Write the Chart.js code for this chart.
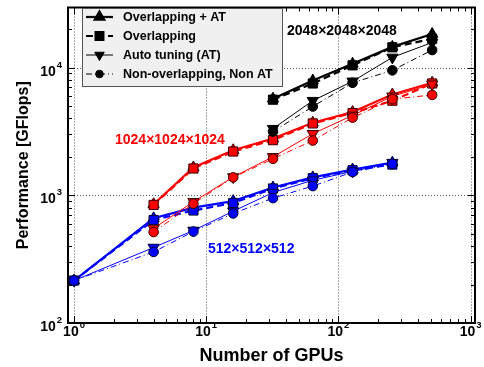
<!DOCTYPE html>
<html>
<head>
<meta charset="utf-8">
<script src="https://cdn.jsdelivr.net/npm/chart.js@4.4.1/dist/chart.umd.min.js"></script>
<style>
body{margin:0;background:#fff;}
#chart{display:block;}
</style>
</head>
<body>
<canvas id="chart" width="484" height="367"></canvas>
<script>
// number of GPUs
var gpus = [1, 4, 8, 16, 32, 64, 128, 256, 512];

// 512x512x512  (1 .. 256 GPUs)
var gpus512 = [1, 4, 8, 16, 32, 64, 128, 256];
var ovat512 = [215, 660, 800, 900, 1150, 1380, 1590, 1800];
var ov512   = [215, 640, 760, 870, 1130, 1360, 1570, 1740];
var at512   = [215, 390, 530, 750, 1050, 1310, 1540, 1800];
var non512  = [215, 360, 520, 720, 950, 1180, 1520, 1760];

// 1024x1024x1024  (4 .. 512 GPUs)
var gpus1024 = [4, 8, 16, 32, 64, 128, 256, 512];
var ovat1024 = [850, 1650, 2250, 2780, 3700, 4480, 6150, 7600];
var ov1024   = [840, 1620, 2200, 2700, 3650, 4400, 5500, 7500];
var at1024   = [550, 890, 1390, 2000, 3030, 4220, 5950, 7400];
var non1024  = [515, 860, 1380, 1930, 2680, 4050, 5650, 6100];

// 2048x2048x2048  (32 .. 512 GPUs)
var gpus2048 = [32, 64, 128, 256, 512];
var ovat2048 = [5700, 7900, 10700, 14500, 18300];
var ov2048   = [5600, 7500, 10400, 14400, 16800];
var at2048   = [3320, 5500, 7800, 12000, 15700];
var non2048  = [3150, 4950, 7600, 9500, 13700];

var seriesNames = ["Overlapping + AT", "Overlapping", "Auto tuning (AT)", "Non-overlapping, Non AT"];
var sizeNames = ["512×512×512", "1024×1024×1024", "2048×2048×2048"];
var xTicks = [1, 10, 100, 1000];
var yTicks = [100, 1000, 10000];

// look of the four kinds of line
var kinds = [
  {w: 2.2, dash: [],          pt: 'triangle', r: 6.5, rot: 0},
  {w: 2.2, dash: [7, 4],      pt: 'rect',     r: 6.5, rot: 0},
  {w: 1,   dash: [],          pt: 'triangle', r: 6.5, rot: 180},
  {w: 1,   dash: [6, 3, 1, 3], pt: 'circle',  r: 4.8, rot: 0}
];
var colors = ['#0000ff', '#ff0000', '#000000'];
var edges  = ['#000033', '#330000', '#000000'];

function pts(xs, ys) {
  return xs.map(function(x, i) { return {x: x, y: ys[i]}; });
}

var groups = [
  [gpus512, [ovat512, ov512, at512, non512]],
  [gpus1024, [ovat1024, ov1024, at1024, non1024]],
  [gpus2048, [ovat2048, ov2048, at2048, non2048]]
];

var datasets = [];
groups.forEach(function(g, gi) {
  g[1].forEach(function(vals, k) {
    var s = kinds[k];
    datasets.push({
      label: seriesNames[k] + ' ' + sizeNames[gi],
      data: pts(g[0], vals),
      borderColor: colors[gi],
      backgroundColor: colors[gi],
      borderWidth: s.w,
      borderDash: s.dash,
      pointStyle: s.pt,
      pointRotation: s.rot,
      pointRadius: s.r,
      pointBackgroundColor: colors[gi],
      pointBorderColor: edges[gi],
      pointBorderWidth: 1,
      tension: 0,
      order: 4 - k
    });
  });
});

function supLabel(ctx, exp, x, y, align) {
  // "10" with a raised exponent
  ctx.font = 'bold 14px Arial, "Liberation Sans", sans-serif';
  var w1 = ctx.measureText('10').width;
  ctx.font = 'bold 9.5px Arial, "Liberation Sans", sans-serif';
  var w2 = ctx.measureText(String(exp)).width;
  var tot = w1 + 1 + w2;
  var x0 = align == 'center' ? x - tot / 2 : x - tot;
  ctx.textAlign = 'left';
  ctx.textBaseline = 'alphabetic';
  ctx.font = 'bold 14px Arial, "Liberation Sans", sans-serif';
  ctx.fillText('10', x0, y);
  ctx.font = 'bold 9.5px Arial, "Liberation Sans", sans-serif';
  ctx.fillText(String(exp), x0 + w1 + 1, y - 8);
}

var framePlugin = {
  id: 'frame',
  beforeDatasetsDraw: function(chart) {
    var ctx = chart.ctx, a = chart.chartArea;
    var sx = chart.scales.x, sy = chart.scales.y;
    ctx.save();
    ctx.strokeStyle = '#555';
    ctx.lineWidth = 1;
    ctx.setLineDash([1, 2]);
    xTicks.forEach(function(v) {
      var px = Math.round(sx.getPixelForValue(v)) + 0.5;
      if (px > a.left + 2 && px < a.right - 2) {
        ctx.beginPath(); ctx.moveTo(px, a.top); ctx.lineTo(px, a.bottom); ctx.stroke();
      }
    });
    yTicks.forEach(function(v) {
      var py = Math.round(sy.getPixelForValue(v)) + 0.5;
      if (py > a.top + 2 && py < a.bottom - 2) {
        ctx.beginPath(); ctx.moveTo(a.left, py); ctx.lineTo(a.right, py); ctx.stroke();
      }
    });
    ctx.restore();
  },
  afterDraw: function(chart) {
    var ctx = chart.ctx, a = chart.chartArea;
    var sx = chart.scales.x, sy = chart.scales.y;
    ctx.save();
    ctx.setLineDash([]);
    ctx.strokeStyle = '#000';
    ctx.fillStyle = '#000';

    // minor and major ticks on all four sides
    ctx.lineWidth = 1;
    [1, 10, 100, 1000].forEach(function(dec) {
      for (var m = 1; m < 10; m++) {
        var v = m * dec;
        if (v < sx.min || v > sx.max) continue;
        var px = Math.round(sx.getPixelForValue(v)) + 0.5;
        var len = m == 1 ? 7 : 4;
        ctx.beginPath();
        ctx.moveTo(px, a.bottom); ctx.lineTo(px, a.bottom - len);
        ctx.moveTo(px, a.top); ctx.lineTo(px, a.top + len);
        ctx.stroke();
      }
    });
    [100, 1000, 10000].forEach(function(dec) {
      for (var m = 1; m < 10; m++) {
        var v = m * dec;
        if (v < sy.min || v > sy.max) continue;
        var py = Math.round(sy.getPixelForValue(v)) + 0.5;
        var len = m == 1 ? 7 : 4;
        ctx.beginPath();
        ctx.moveTo(a.left, py); ctx.lineTo(a.left + len, py);
        ctx.moveTo(a.right, py); ctx.lineTo(a.right - len, py);
        ctx.stroke();
      }
    });

    // box
    ctx.lineWidth = 2;
    ctx.strokeRect(a.left, a.top, a.right - a.left, a.bottom - a.top);

    // tick labels
    xTicks.forEach(function(v) {
      supLabel(ctx, Math.round(Math.log10(v)), sx.getPixelForValue(v), a.bottom + 13, 'center');
    });
    yTicks.forEach(function(v) {
      supLabel(ctx, Math.round(Math.log10(v)), a.left - 6, sy.getPixelForValue(v) + 8, 'right');
    });
    ctx.restore();

    ctx.save();
    ctx.fillStyle = '#000';
    ctx.font = 'bold 18px Arial, "Liberation Sans", sans-serif';
    ctx.textAlign = 'center';
    ctx.textBaseline = 'alphabetic';
    ctx.fillText('Number of GPUs', (a.left + a.right) / 2, 361);
    ctx.translate(28, (a.top + a.bottom) / 2);
    ctx.rotate(-Math.PI / 2);
    ctx.font = 'bold 16px Arial, "Liberation Sans", sans-serif';
    ctx.fillText('Performance [GFlops]', 0, 0);
    ctx.restore();

    // size labels
    ctx.save();
    ctx.font = 'bold 14px Arial, "Liberation Sans", sans-serif';
    ctx.textAlign = 'left';
    ctx.textBaseline = 'alphabetic';
    ctx.fillStyle = colors[2];
    ctx.fillText(sizeNames[2], 287, 35);
    ctx.fillStyle = colors[1];
    ctx.fillText(sizeNames[1], 115, 144);
    ctx.fillStyle = colors[0];
    ctx.fillText(sizeNames[0], 208, 253);
    ctx.restore();

    // legend
    ctx.save();
    var lx = 82, ly = 8, lw = 200, lh = 78;
    ctx.fillStyle = '#f0f0f0';
    ctx.fillRect(lx, ly, lw, lh);
    ctx.strokeStyle = '#555';
    ctx.lineWidth = 1;
    ctx.strokeRect(lx + 0.5, ly + 0.5, lw, lh);
    seriesNames.forEach(function(name, k) {
      var s = kinds[k];
      var cy = 17 + k * 19;
      ctx.strokeStyle = '#000';
      ctx.lineWidth = s.w;
      ctx.setLineDash(s.dash);
      ctx.beginPath(); ctx.moveTo(86, cy); ctx.lineTo(113, cy); ctx.stroke();
      ctx.setLineDash([]);
      ctx.fillStyle = '#000';
      Chart.helpers.drawPoint(ctx, {pointStyle: s.pt, rotation: s.rot, radius: s.r - 1, borderWidth: 1}, 99.5, cy);
      ctx.fillStyle = '#000';
      ctx.font = 'bold 12.5px Arial, "Liberation Sans", sans-serif';
      ctx.textAlign = 'left';
      ctx.textBaseline = 'middle';
      ctx.fillText(name, 123, cy + 1);
    });
    ctx.restore();
  }
};

new Chart(document.getElementById('chart'), {
  type: 'line',
  data: {datasets: datasets},
  options: {
    responsive: false,
    animation: false,
    devicePixelRatio: 1,
    layout: {padding: {left: 0, right: 9, top: 7, bottom: 0}},
    plugins: {legend: {display: false}, tooltip: {enabled: false}},
    scales: {
      x: {
        type: 'logarithmic', min: 0.9, max: 1080,
        ticks: {display: false},
        grid: {display: false},
        border: {display: false},
        afterFit: function(s) { s.height = 44; }
      },
      y: {
        type: 'logarithmic', min: 100, max: 29500,
        ticks: {display: false},
        grid: {display: false},
        border: {display: false},
        afterFit: function(s) { s.width = 68; }
      }
    }
  },
  plugins: [framePlugin]
});
</script>
</body>
</html>
